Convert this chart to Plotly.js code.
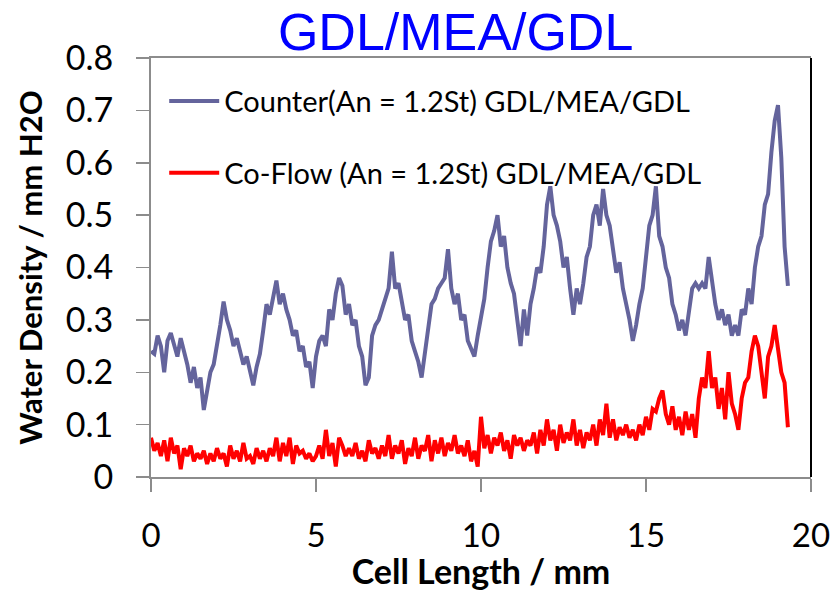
<!DOCTYPE html>
<html>
<head>
<meta charset="utf-8">
<script src="https://cdn.plot.ly/plotly-3.0.1.min.js"></script>
<style>html,body{margin:0;padding:0;background:#fff;}#chart{width:836px;height:591px;}</style>
</head>
<body>
<div id="chart"></div>
<script>
// Cell length sampled every 0.1 mm starting at 0 (x0/dx used by the traces)
const xStart = 0;
const xStep = 0.1;

const counterName = "Counter(An = 1.2St) GDL/MEA/GDL";
const coflowName = "Co-Flow (An = 1.2St) GDL/MEA/GDL";

const counterValues = [
  0.24, 0.235, 0.27, 0.25, 0.20, 0.26, 0.275, 0.25, 0.23, 0.265,
  0.24, 0.215, 0.18, 0.21, 0.17, 0.19, 0.128, 0.16, 0.20, 0.215,
  0.25, 0.29, 0.335, 0.30, 0.28, 0.25, 0.265, 0.24, 0.215, 0.23,
  0.20, 0.175, 0.21, 0.235, 0.28, 0.33, 0.31, 0.34, 0.375, 0.33,
  0.35, 0.32, 0.30, 0.27, 0.28, 0.24, 0.25, 0.21, 0.22, 0.17,
  0.23, 0.26, 0.27, 0.25, 0.32, 0.30, 0.35, 0.38, 0.365, 0.31,
  0.33, 0.29, 0.30, 0.25, 0.23, 0.175, 0.19, 0.27, 0.29, 0.30,
  0.32, 0.34, 0.36, 0.43, 0.36, 0.37, 0.33, 0.30, 0.31, 0.26,
  0.24, 0.22, 0.19, 0.24, 0.28, 0.33, 0.34, 0.36, 0.37, 0.38,
  0.435, 0.36, 0.33, 0.35, 0.30, 0.31, 0.26, 0.245, 0.23, 0.27,
  0.31, 0.34, 0.40, 0.45, 0.47, 0.50, 0.44, 0.46, 0.40, 0.37,
  0.35, 0.30, 0.25, 0.32, 0.27, 0.33, 0.36, 0.40, 0.39, 0.44,
  0.52, 0.555, 0.50, 0.48, 0.45, 0.40, 0.42, 0.36, 0.31, 0.36,
  0.33, 0.37, 0.42, 0.44, 0.50, 0.52, 0.48, 0.55, 0.50, 0.48,
  0.44, 0.39, 0.41, 0.36, 0.33, 0.30, 0.26, 0.29, 0.33, 0.36,
  0.42, 0.48, 0.50, 0.555, 0.46, 0.44, 0.40, 0.38, 0.33, 0.31,
  0.28, 0.30, 0.27, 0.32, 0.36, 0.37, 0.36, 0.37, 0.36, 0.42,
  0.37, 0.33, 0.30, 0.32, 0.29, 0.31, 0.27, 0.29, 0.27, 0.32,
  0.31, 0.36, 0.33, 0.40, 0.44, 0.46, 0.52, 0.54, 0.62, 0.68,
  0.71, 0.61, 0.44, 0.365
];

const coflowValues = [
  0.075, 0.05, 0.065, 0.04, 0.07, 0.03, 0.075, 0.045, 0.06, 0.015,
  0.055, 0.04, 0.06, 0.03, 0.045, 0.035, 0.05, 0.025, 0.045, 0.03,
  0.055, 0.035, 0.045, 0.02, 0.06, 0.035, 0.05, 0.03, 0.065, 0.035,
  0.04, 0.025, 0.055, 0.035, 0.05, 0.03, 0.055, 0.04, 0.075, 0.03,
  0.065, 0.04, 0.075, 0.025, 0.06, 0.045, 0.05, 0.035, 0.045, 0.03,
  0.04, 0.06, 0.035, 0.09, 0.04, 0.065, 0.02, 0.075, 0.06, 0.04,
  0.055, 0.04, 0.065, 0.035, 0.05, 0.03, 0.07, 0.045, 0.055, 0.035,
  0.06, 0.04, 0.08, 0.035, 0.06, 0.045, 0.07, 0.025, 0.055, 0.04,
  0.075, 0.035, 0.06, 0.05, 0.08, 0.03, 0.07, 0.045, 0.075, 0.04,
  0.065, 0.05, 0.08, 0.045, 0.06, 0.04, 0.07, 0.03, 0.05, 0.02,
  0.115, 0.055, 0.08, 0.045, 0.075, 0.06, 0.085, 0.05, 0.07, 0.035,
  0.08, 0.06, 0.075, 0.05, 0.07, 0.06, 0.085, 0.045, 0.09, 0.06,
  0.11, 0.07, 0.09, 0.05, 0.10, 0.065, 0.085, 0.07, 0.11, 0.06,
  0.09, 0.055, 0.085, 0.07, 0.10, 0.06, 0.11, 0.08, 0.14, 0.075,
  0.11, 0.07, 0.095, 0.08, 0.10, 0.075, 0.09, 0.07, 0.10, 0.08,
  0.115, 0.09, 0.13, 0.125, 0.15, 0.165, 0.12, 0.10, 0.135, 0.09,
  0.115, 0.08, 0.125, 0.09, 0.12, 0.075, 0.15, 0.19, 0.17, 0.24,
  0.17, 0.19, 0.13, 0.17, 0.11, 0.20, 0.14, 0.12, 0.09, 0.15,
  0.18, 0.19, 0.24, 0.27, 0.25, 0.20, 0.15, 0.23, 0.25, 0.29,
  0.25, 0.20, 0.18, 0.095
];

const xTicks = [0, 5, 10, 15, 20];
const yTicks = [0, 0.1, 0.2, 0.3, 0.4, 0.5, 0.6, 0.7, 0.8];

const titleText = "GDL/MEA/GDL";
const xTitle = "Cell Length / mm";
const yTitle = "Water Density / mm H2O";

const traces = [
  {
    type: "scatter", mode: "lines", name: counterName,
    x0: xStart, dx: xStep, y: counterValues,
    line: {color: "#64649c", width: 4},
    legendgroup: "a"
  },
  {
    type: "scatter", mode: "lines", name: coflowName,
    x0: xStart, dx: xStep, y: coflowValues,
    line: {color: "#ff0000", width: 4},
    legendgroup: "b"
  }
];

const axisColor = "#8c8c8c";
const layout = {
  width: 836, height: 591, autosize: false,
  margin: {l: 151, r: 25, t: 58, b: 114, pad: 0},
  paper_bgcolor: "#ffffff", plot_bgcolor: "#ffffff",
  font: {family: "Lato, 'Open Sans', sans-serif", color: "#000"},
  title: {
    text: titleText,
    font: {family: "'Liberation Sans', Arial, sans-serif", size: 52, color: "#0000ff"},
    xref: "container", yref: "container", x: 0.545, y: 0.946,
    xanchor: "center", yanchor: "middle"
  },
  xaxis: {
    range: [0, 20], tickvals: xTicks, ticktext: xTicks.map(String),
    showgrid: false, zeroline: false, showline: true, mirror: true,
    linecolor: axisColor, linewidth: 2,
    ticks: "outside", ticklen: 13, tickwidth: 1.5, tickcolor: axisColor,
    tickfont: {size: 33, family: "Lato, sans-serif"},
    ticklabelstandoff: 15,
    title: {text: xTitle, font: {size: 34, family: "Lato, sans-serif", weight: "bold"}, standoff: 14},
    fixedrange: true
  },
  yaxis: {
    range: [0, 0.8], tickvals: yTicks, ticktext: yTicks.map(String),
    showgrid: false, zeroline: false, showline: true,
    linecolor: axisColor, linewidth: 2,
    ticks: "outside", ticklen: 13, tickwidth: 1.5, tickcolor: axisColor,
    tickfont: {size: 34, family: "Lato, sans-serif"},
    ticklabelstandoff: 16,
    title: {text: yTitle, font: {size: 31, family: "Lato, sans-serif", weight: "bold"}, standoff: 14},
    fixedrange: true
  },
  showlegend: true,
  legend: {
    x: 0.02, y: 0.958, xanchor: "left", yanchor: "top",
    bgcolor: "rgba(0,0,0,0)", borderwidth: 0,
    font: {size: 29, family: "Lato, sans-serif", color: "#000"},
    tracegroupgap: 31, traceorder: "grouped", itemwidth: 50
  },
  shapes: [
    {type: "line", xref: "paper", yref: "paper", x0: 1, x1: 1, y0: 0, y1: 1,
     line: {color: "#000000", width: 2}}
  ]
};

Plotly.newPlot("chart", traces, layout, {displayModeBar: false, staticPlot: true});
</script>
</body>
</html>
